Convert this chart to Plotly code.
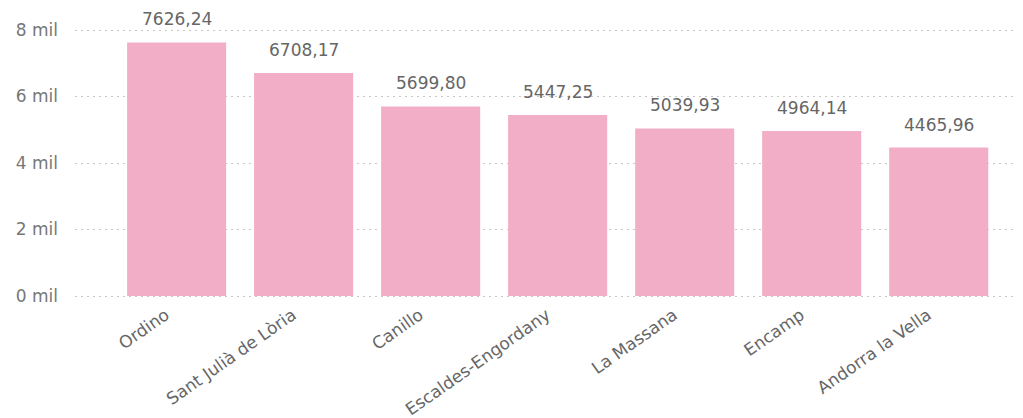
import plotly.graph_objects as go

categories = ["Ordino", "Sant Julià de Lòria", "Canillo", "Escaldes-Engordany",
              "La Massana", "Encamp", "Andorra la Vella"]
values = [7626.24, 6708.17, 5699.80, 5447.25, 5039.93, 4964.14, 4465.96]
tick_vals = [0, 2000, 4000, 6000, 8000]
tick_text = ["0 mil", "2 mil", "4 mil", "6 mil", "8 mil"]

labels = [f"{v:.2f}".replace(".", ",") for v in values]

fig = go.Figure(go.Bar(
    x=categories, y=values,
    marker=dict(color="#F3AEC7", line=dict(width=0)),
    hoverinfo="skip",
))

for c, v, t in zip(categories, values, labels):
    fig.add_annotation(x=c, y=v, text=t, showarrow=False, yanchor="bottom",
                       yshift=11, font=dict(family="DejaVu Sans", size=17, color="#666666"))

fig.update_layout(
    width=1015, height=410,
    margin=dict(l=67, r=3, t=20, b=120, autoexpand=False),
    paper_bgcolor="white", plot_bgcolor="white",
    showlegend=False, bargap=0.22,
    font=dict(family="DejaVu Sans", size=17, color="#777777"),
)
fig.update_xaxes(
    range=[-0.80, 6.64], tickangle=-35, showgrid=False, showline=False,
    ticks="", automargin=False, ticklabelshift=-11, ticklabelstandoff=3,
    tickfont=dict(size=17, color="#666666"),
)
fig.update_yaxes(
    range=[-60, 8060], tickvals=tick_vals, ticktext=tick_text,
    showgrid=True, gridcolor="#C8C8C8", griddash="2px,4px", gridwidth=1,
    zeroline=False, showline=False, ticks="", ticklabelstandoff=16,
    automargin=False, tickfont=dict(size=17, color="#777777"),
)

fig.write_html("out.html")
